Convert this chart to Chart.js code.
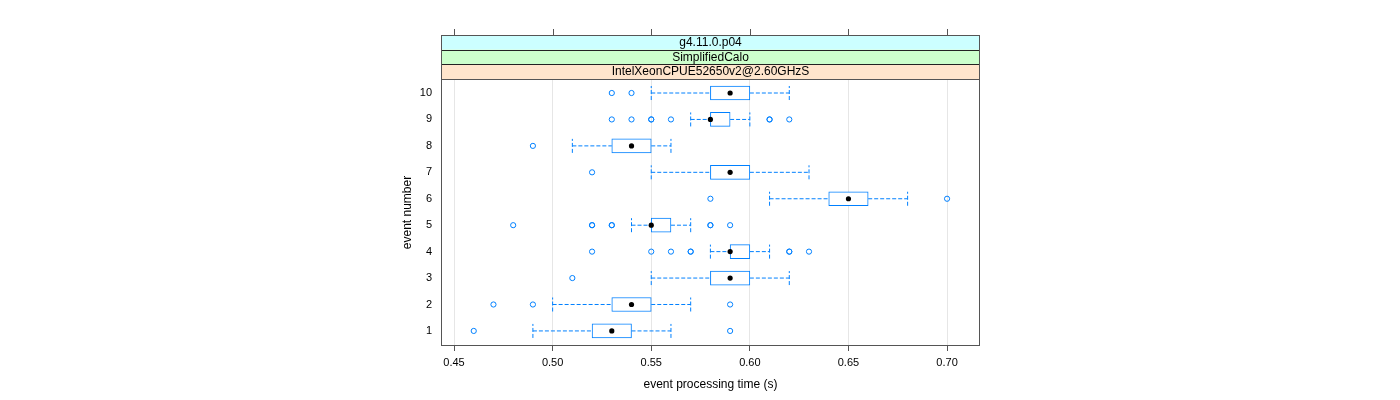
<!DOCTYPE html>
<html><head><meta charset="utf-8">
<script src="https://cdn.jsdelivr.net/npm/chart.js@4"></script>
<style>html,body{margin:0;padding:0;background:#fff}#wrap{width:1400px;height:400px;position:relative}</style>
</head><body><div id="wrap"><canvas id="c"></canvas></div>
<script>
const events=[1,2,3,4,5,6,7,8,9,10];
const whiskerLow=[0.49,0.50,0.55,0.58,0.54,0.61,0.55,0.51,0.57,0.55];
const q1=[0.52,0.53,0.58,0.59,0.55,0.64,0.58,0.53,0.58,0.58];
const median=[0.53,0.54,0.59,0.59,0.55,0.65,0.59,0.54,0.58,0.59];
const q3=[0.54,0.55,0.60,0.60,0.56,0.66,0.60,0.55,0.59,0.60];
const whiskerHigh=[0.56,0.57,0.62,0.61,0.57,0.68,0.63,0.56,0.60,0.62];
const outliers=[
  [0.46,0.59],
  [0.47,0.49,0.59],
  [0.51],
  [0.52,0.55,0.56,0.57,0.57,0.62,0.62,0.63],
  [0.48,0.52,0.52,0.53,0.53,0.58,0.58,0.59],
  [0.58,0.70],
  [0.52],
  [0.49],
  [0.53,0.54,0.55,0.55,0.56,0.61,0.61,0.62],
  [0.53,0.54]
];
const xTicks=[0.45,0.50,0.55,0.60,0.65,0.70];
const yTicks=[1,2,3,4,5,6,7,8,9,10];
const stripLabels=["g4.11.0.p04","SimplifiedCalo","IntelXeonCPUE52650v2@2.60GHzS"];
const stripColors=["#ccffff","#ccffcc","#ffe5cc"];

const BLUE='#0080ff';
const CAP=0.265;
const datasets=[];
events.forEach((e,i)=>{
  const common={type:'line',borderColor:BLUE,borderWidth:1,borderDash:[4,2],pointRadius:0,fill:false,order:5,tension:0};
  datasets.push(Object.assign({data:[{x:whiskerLow[i],y:e},{x:q1[i],y:e}]},common));
  datasets.push(Object.assign({data:[{x:q3[i],y:e},{x:whiskerHigh[i],y:e}]},common));
  datasets.push(Object.assign({data:[{x:whiskerLow[i],y:e-CAP},{x:whiskerLow[i],y:e+CAP}]},common));
  datasets.push(Object.assign({data:[{x:whiskerHigh[i],y:e-CAP},{x:whiskerHigh[i],y:e+CAP}]},common));
});
datasets.push({type:'bar',indexAxis:'y',data:events.map((e,i)=>({x:[q1[i],q3[i]],y:e})),
  backgroundColor:'#ffffff',borderColor:BLUE,borderWidth:1,borderSkipped:false,barThickness:14,order:3});
datasets.push({type:'scatter',data:events.map((e,i)=>({x:median[i],y:e})),
  pointRadius:2.6,pointBackgroundColor:'#000',pointBorderColor:'#000',pointBorderWidth:0,order:2});
const outPts=[];
events.forEach((e,i)=>outliers[i].forEach(v=>outPts.push({x:v,y:e})));
datasets.push({type:'scatter',data:outPts,pointRadius:2.6,pointBackgroundColor:'rgba(0,0,0,0)',
  pointBorderColor:BLUE,pointBorderWidth:1,order:1});

const panelPlugin={
  id:'panel',
  afterDraw(chart){
    const ctx=chart.ctx, a=chart.chartArea, xs=chart.scales.x;
    const top=35, h=(a.top-top)/3;
    ctx.save();
    for(let k=0;k<3;k++){
      const y0=top+k*h;
      ctx.fillStyle=stripColors[k];
      ctx.fillRect(a.left,y0,a.right-a.left,h);
      ctx.strokeStyle='#222';ctx.lineWidth=1;
      ctx.strokeRect(a.left+0.5,Math.round(y0)+0.5,a.right-a.left-1,Math.round(h));
      ctx.fillStyle='#000';ctx.font='12px "Liberation Sans", Arial, sans-serif';
      ctx.textAlign='center';ctx.textBaseline='middle';
      ctx.fillText(stripLabels[k],(a.left+a.right)/2,y0+h/2+0.5);
    }
    ctx.strokeStyle='#555';
    ctx.strokeRect(a.left+0.5,top+0.5,a.right-a.left-1,a.bottom-top-1);
    ctx.beginPath();
    xTicks.forEach(v=>{const px=Math.round(xs.getPixelForValue(v))+0.5;ctx.moveTo(px,top-6);ctx.lineTo(px,top);});
    ctx.stroke();
    ctx.strokeStyle='#555';
    ctx.strokeRect(a.left+0.5,a.top+0.5,a.right-a.left-1,a.bottom-a.top-1);
    ctx.restore();
  }
};

new Chart(document.getElementById('c'),{
  type:'scatter',
  data:{datasets},
  options:{
    responsive:true,maintainAspectRatio:false,animation:false,
    events:[],
    layout:{padding:{left:396,right:420,top:79,bottom:0}},
    plugins:{legend:{display:false},tooltip:{enabled:false}},
    scales:{
      x:{type:'linear',min:0.4434,max:0.7167,offset:false,
        afterBuildTicks:s=>{s.ticks=xTicks.map(v=>({value:v}));},
        afterFit:s=>{s.height=54;},
        ticks:{callback:v=>Number(v).toFixed(2),color:'#000',font:{size:11,family:'"Liberation Sans", Arial, sans-serif'},padding:5,maxRotation:0,autoSkip:false},
        grid:{color:'#e6e6e6',tickColor:'#555',tickLength:5,lineWidth:1,offset:false},
        border:{display:false},
        title:{display:true,text:'event processing time (s)',color:'#000',font:{size:12,family:'"Liberation Sans", Arial, sans-serif'},padding:{top:4,bottom:8}}
      },
      y:{type:'linear',min:0.43,max:10.53,offset:false,
        afterBuildTicks:s=>{s.ticks=yTicks.map(v=>({value:v}));},
        afterFit:s=>{s.width=45;},
        ticks:{color:'#000',font:{size:11,family:'"Liberation Sans", Arial, sans-serif'},padding:9,autoSkip:false},
        grid:{display:false,drawTicks:false,offset:false},
        border:{display:false},
        title:{display:true,text:'event number',color:'#000',font:{size:12,family:'"Liberation Sans", Arial, sans-serif'},padding:{top:4,bottom:4}}
      }
    }
  },
  plugins:[panelPlugin]
});
</script></body></html>
